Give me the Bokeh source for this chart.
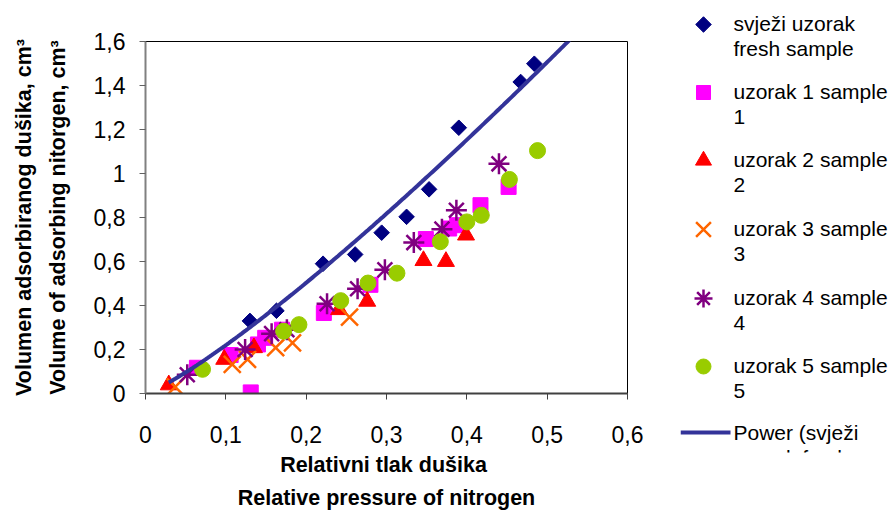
import numpy as np
from bokeh.plotting import figure
from bokeh.layouts import row, column
from bokeh.models import Range1d, FixedTicker, CustomJSTickFormatter
from bokeh.core.properties import value
from bokeh.embed import file_html
from bokeh.resources import INLINE

# ---------------- data ----------------
fresh_x = [0.130, 0.163, 0.221, 0.261, 0.294, 0.325, 0.353, 0.390, 0.467, 0.484]
fresh_y = [0.330, 0.376, 0.590, 0.632, 0.731, 0.803, 0.928, 1.208, 1.416, 1.499]

s1_x = [0.064, 0.106, 0.131, 0.140, 0.149, 0.170, 0.222, 0.280, 0.349, 0.378, 0.388, 0.417, 0.452]
s1_y = [0.117, 0.175, 0.005, 0.223, 0.253, 0.290, 0.366, 0.494, 0.702, 0.750, 0.765, 0.856, 0.939]

s2_x = [0.029, 0.098, 0.135, 0.241, 0.276, 0.346, 0.374, 0.399]
s2_y = [0.039, 0.155, 0.208, 0.381, 0.419, 0.604, 0.600, 0.720]

s3_x = [0.037, 0.108, 0.127, 0.162, 0.183, 0.254]
s3_y = [0.030, 0.132, 0.155, 0.208, 0.230, 0.347]

s4_x = [0.052, 0.124, 0.157, 0.176, 0.226, 0.264, 0.298, 0.334, 0.369, 0.387, 0.440]
s4_y = [0.085, 0.200, 0.272, 0.290, 0.408, 0.476, 0.562, 0.686, 0.747, 0.833, 1.044]

s5_x = [0.071, 0.172, 0.191, 0.243, 0.277, 0.313, 0.367, 0.400, 0.418, 0.453, 0.488]
s5_y = [0.110, 0.283, 0.313, 0.422, 0.502, 0.547, 0.690, 0.780, 0.810, 0.973, 1.104]

# power trendline y = a * x^b
trend_a = 3.45
trend_b = 1.196
trend_start = 0.029
trend_end = 0.56

x_ticks = [0, 0.1, 0.2, 0.3, 0.4, 0.5, 0.6]
y_ticks = [0, 0.2, 0.4, 0.6, 0.8, 1.0, 1.2, 1.4, 1.6]

legend_lines = [
    ("svježi uzorak", "fresh sample"),
    ("uzorak 1 sample", "1"),
    ("uzorak 2 sample", "2"),
    ("uzorak 3 sample", "3"),
    ("uzorak 4 sample", "4"),
    ("uzorak 5 sample", "5"),
    ("Power (svježi", "uzorak fresh"),
]

x_title = "Relativni tlak  dušika\nRelative pressure of nitrogen"
y_title = "Volumen adsorbiranog dušika, cm³\nVolume of adsorbing nitorgen, cm³"

FONT = "Liberation Sans"

styles = [
    dict(marker="square", angle=np.pi / 4, size=11, fill_color="#000080", line_color="#000080"),
    dict(marker="square", size=15, fill_color="#FF00FF", line_color="#FF00FF"),
    dict(marker="triangle", size=17, fill_color="#FF0000", line_color="#FF0000"),
    dict(marker="x", size=24, line_color="#FF6600", line_width=2.5),
    dict(marker="asterisk", size=21, line_color="#800080", line_width=2.5),
    dict(marker="circle", size=16, fill_color="#99CC00", line_color="#99CC00"),
]
legend_sizes = [11, 14, 16, 21, 18, 15]
TREND_COLOR = "#333399"

H = 513

# ---------------- main plot ----------------
p = figure(width=680, height=H, x_range=Range1d(0, 0.6), y_range=Range1d(0, 1.6),
           output_backend="svg", toolbar_location=None,
           min_border_left=145, min_border_right=53, min_border_top=41, min_border_bottom=117)
p.background_fill_color = "white"
p.border_fill_color = "white"
p.outline_line_color = "black"
p.outline_line_width = 1
p.xgrid.visible = False
p.ygrid.visible = False

fmt = CustomJSTickFormatter(code="return (Math.round(tick*10)/10).toString().replace('.', ',');")
for ax, ticks in ((p.xaxis[0], x_ticks), (p.yaxis[0], y_ticks)):
    ax.ticker = FixedTicker(ticks=ticks)
    ax.formatter = fmt
    ax.minor_tick_line_color = None
    ax.major_tick_in = 0
    ax.major_tick_out = 6
    ax.major_label_text_font = FONT
    ax.major_label_text_font_size = "23px"
    ax.major_label_text_color = "black"
    ax.axis_label_text_font = FONT
    ax.axis_label_text_font_style = "bold"
    ax.axis_label_text_font_size = "21.5px"
    ax.axis_label_text_color = "black"
    ax.axis_label_text_line_height = 1.4

p.xaxis.axis_label = x_title
p.yaxis.axis_label = y_title
p.xaxis.axis_line_color = "#404040"
p.xaxis.axis_line_width = 2
p.xaxis.major_tick_line_color = "#404040"
p.yaxis.axis_line_color = "#808080"
p.yaxis.axis_line_width = 2
p.yaxis.major_tick_line_color = "#606060"
p.xaxis.major_label_standoff = 26
p.yaxis.major_label_standoff = 14
p.xaxis.axis_label_standoff = 7
p.yaxis.axis_label_standoff = 21

series = [(fresh_x, fresh_y), (s1_x, s1_y), (s2_x, s2_y), (s3_x, s3_y), (s4_x, s4_y), (s5_x, s5_y)]
for (xs, ys), st in zip(series, styles):
    p.scatter(xs, ys, **st)

tx = np.linspace(trend_start, trend_end, 200)
p.line(tx, trend_a * tx ** trend_b, line_color=TREND_COLOR, line_width=4)

# ---------------- legend panel ----------------
leg = figure(width=213, height=H, x_range=Range1d(680, 893), y_range=Range1d(452, 0),
             output_backend="svg", toolbar_location=None, x_axis_type=None, y_axis_type=None,
             min_border_left=0, min_border_right=0, min_border_top=0, min_border_bottom=H - 452)
leg.outline_line_color = None
leg.xgrid.visible = False
leg.ygrid.visible = False
leg.background_fill_color = "white"
leg.border_fill_color = "white"

entry_y = [23, 91, 159, 228, 297, 365, 432]
line_gap = 25
for i, st in enumerate(styles):
    s = dict(st)
    s["size"] = legend_sizes[i]
    leg.scatter([703], [entry_y[i] + 1], **s)
leg.line([680, 730], [entry_y[6], entry_y[6]], line_color=TREND_COLOR, line_width=4)

tx_all, ty_all, tt_all = [], [], []
for (l1, l2), yy in zip(legend_lines, entry_y):
    tx_all += [733, 733]
    ty_all += [yy, yy + line_gap]
    tt_all += [l1, l2]
leg.text(tx_all, ty_all, text=tt_all, text_font=value(FONT), text_font_size="21px",
         text_baseline="middle", text_align="left", text_color="black")

layout = row(p, column(leg))
open("out.html", "w").write(file_html(layout, INLINE))
